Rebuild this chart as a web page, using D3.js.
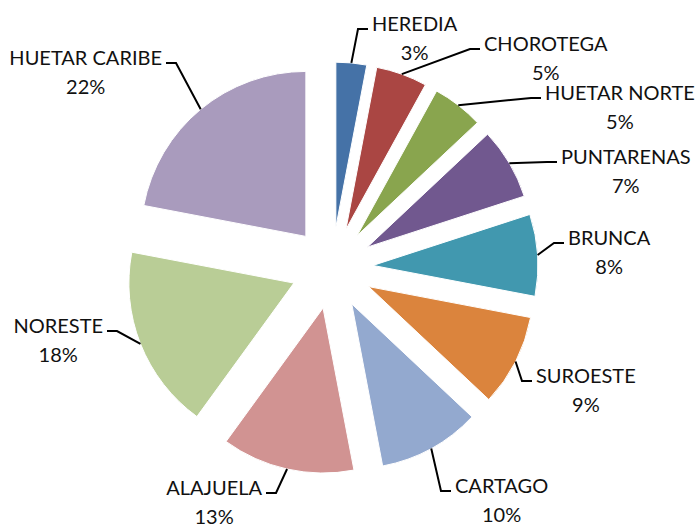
<!DOCTYPE html>
<html>
<head>
<meta charset="utf-8">
<script src="https://cdn.jsdelivr.net/npm/d3@7"></script>
<style>
  body { margin: 0; background: #fff; }
  text { font-family: Lato, "Open Sans", sans-serif; fill: #111; }
</style>
</head>
<body>
<svg id="chart" width="696" height="525"></svg>
<script>
const regions = ['HEREDIA', 'CHOROTEGA', 'HUETAR NORTE', 'PUNTARENAS', 'BRUNCA',
                 'SUROESTE', 'CARTAGO', 'ALAJUELA', 'NORESTE', 'HUETAR CARIBE']
const shares = [3, 5, 5, 7, 8, 9, 10, 13, 18, 22]
const colors = ['#4572A7', '#AA4643', '#89A54E', '#71588F', '#4198AF',
                '#DB843D', '#93A9CF', '#D19392', '#B9CD96', '#A99BBD']

// where each label sits: side of the pie, x of the edge next to the leader, first baseline
const labelSpots = [
  ['r', 372, 31], ['r', 484, 51], ['r', 545, 100], ['r', 561, 164], ['r', 568, 245],
  ['r', 536, 383], ['r', 455, 493], ['l', 262, 495], ['l', 103, 333], ['l', 162, 65]
]

let cx = 332, cy = 268, radius = 165, explode = 41
let fontSize = 20, lineGap = 29

let svg = d3.select('#chart')

let pie = d3.pie().sort(null).value(d => d)
let arc = d3.arc().innerRadius(0).outerRadius(radius)
let slices = pie(shares)

let g = svg.append('g').attr('transform', `translate(${cx},${cy})`)

let offset = (d, dist) => {
  let mid = (d.startAngle + d.endAngle) / 2
  return [Math.sin(mid) * dist, -Math.cos(mid) * dist]
}

g.selectAll('path')
  .data(slices)
  .enter()
  .append('path')
  .attr('d', arc)
  .attr('fill', (d, i) => colors[i])
  .attr('stroke', '#fff')
  .attr('stroke-width', 1)
  .attr('transform', d => {
    let [dx, dy] = offset(d, explode)
    return `translate(${dx},${dy})`
  })

// labels + leader lines
slices.forEach((d, i) => {
  let [side, edgeX, baseY] = labelSpots[i]
  let label = svg.append('g')
  let t1 = label.append('text')
    .attr('y', baseY)
    .style('font-size', fontSize + 'px')
    .text(regions[i])
  let t2 = label.append('text')
    .attr('y', baseY + lineGap)
    .style('font-size', fontSize + 'px')
    .text(shares[i] + '%')
  let w = t1.node().getComputedTextLength()
  let left = side === 'r' ? edgeX : edgeX - w
  t1.attr('x', left)
  t2.attr('x', left + w / 2).attr('text-anchor', 'middle')

  let [ox, oy] = offset(d, explode + radius)
  let start = [cx + ox, cy + oy]
  let endX = side === 'r' ? edgeX - 4 : edgeX + 4
  let elbowX = side === 'r' ? endX - 10 : endX + 10
  let lineY = baseY - 2
  svg.append('polyline')
    .attr('points', [start, [elbowX, lineY], [endX, lineY]].map(p => p.join(',')).join(' '))
    .attr('fill', 'none')
    .attr('stroke', '#000')
    .attr('stroke-width', 2)
})
</script>
</body>
</html>
